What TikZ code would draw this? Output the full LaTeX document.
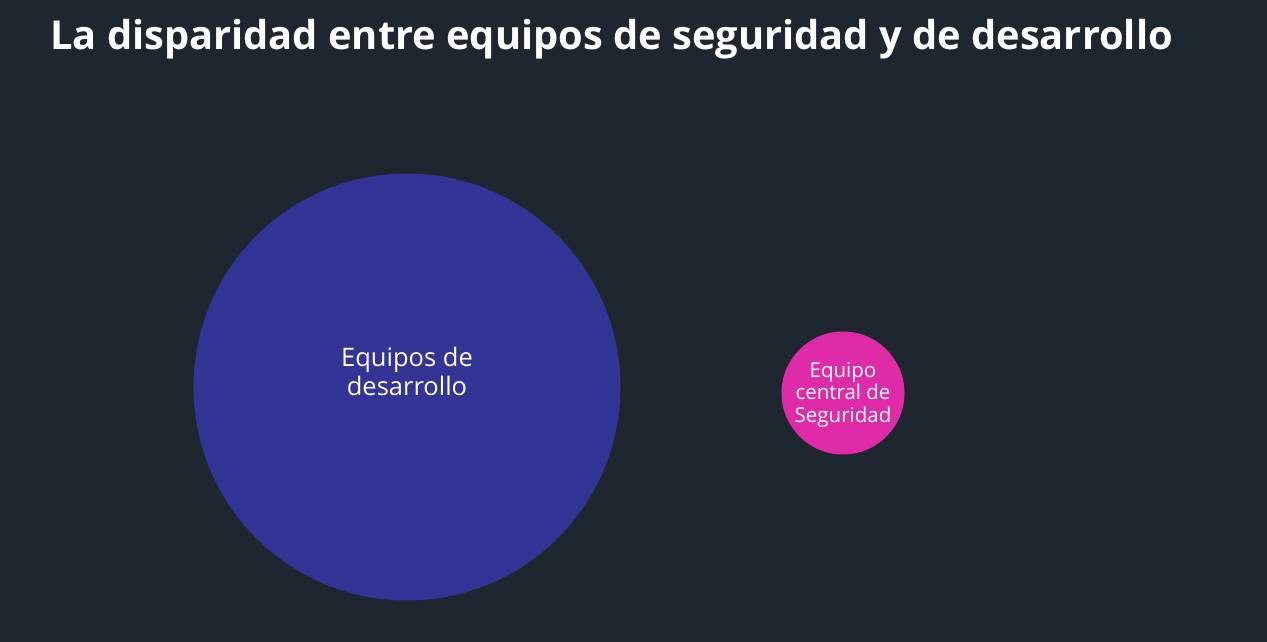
\documentclass[tikz,border=0pt]{standalone}
\usepackage{fontspec}
\setmainfont{Open Sans}
\definecolor{bg}{HTML}{1E2630}
\definecolor{devblue}{HTML}{343396}
\definecolor{secpink}{HTML}{E02BA8}
\tikzset{
  circ/.style={circle, inner sep=0pt, align=center, text=white},
  lbl/.style={inner sep=0pt, align=center, text=white},
}
\begin{document}
\begin{tikzpicture}[x=1pt,y=-1pt]
\fill[bg] (0,0) rectangle (1267,642);
\useasboundingbox (0,0) rectangle (1267,642);
\node[anchor=base west, text=white, inner sep=0pt, font=\fontsize{39.8}{44}\selectfont\bfseries] (title) at (50,50) {La disparidad entre equipos de seguridad y de desarrollo};
\node[circ, fill=devblue, minimum size=427pt] (dev) at (407,387) {};
\node[lbl, anchor=base, font=\fontsize{25.5}{29}\selectfont] (devtext) at (407,395) {Equipos de\\desarrollo};
\node[circ, fill=secpink, minimum size=123pt] (sec) at (843,393) {};
\node[lbl, anchor=base, font=\fontsize{20.5}{22.5}\selectfont] (sectext) at (843,422) {Equipo\\central de\\Seguridad};
\end{tikzpicture}
\end{document}
